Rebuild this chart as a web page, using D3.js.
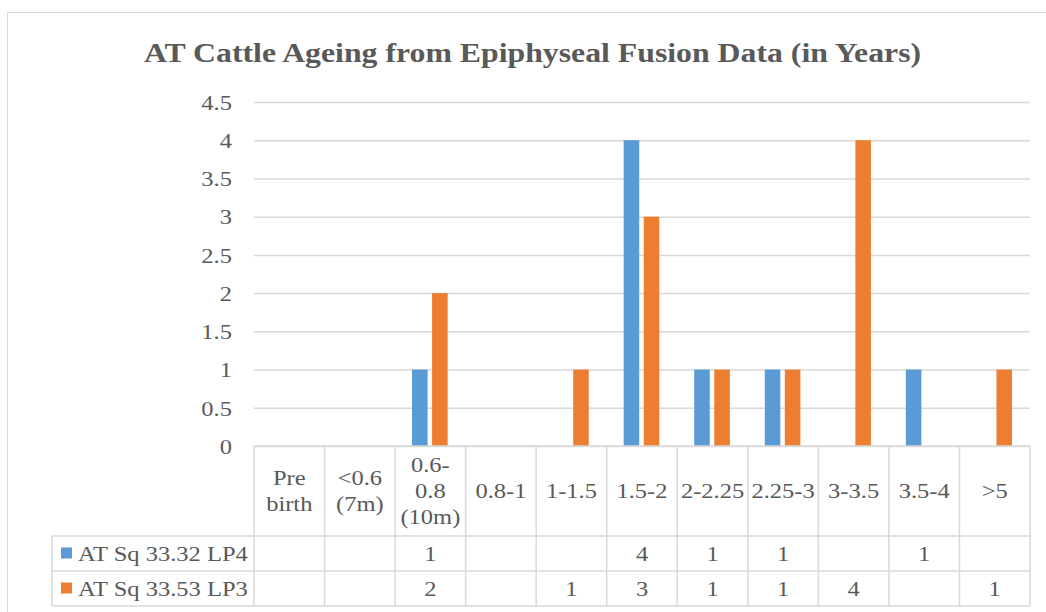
<!DOCTYPE html>
<html>
<head>
<meta charset="utf-8">
<script src="https://cdn.jsdelivr.net/npm/d3@7"></script>
<style>
  body { margin: 0; background: #fff; }
  svg text { font-family: "Liberation Serif", "Times New Roman", serif; fill: #595959; }
</style>
</head>
<body>
<svg id="chart" width="1046" height="612"></svg>
<script>
'use strict'

/****** DATA ******/

const TITLE = 'AT Cattle Ageing from Epiphyseal Fusion Data (in Years)'

// category labels, one entry per line as they wrap in the table
const categories = [
  ['Pre', 'birth'], ['<0.6', '(7m)'], ['0.6-', '0.8', '(10m)'], ['0.8-1'], ['1-1.5'],
  ['1.5-2'], ['2-2.25'], ['2.25-3'], ['3-3.5'], ['3.5-4'], ['>5']
]
const seriesNames = ['AT Sq 33.32 LP4', 'AT Sq 33.53 LP3']
const lp4Values = [null, null, 1, null, null, 4, 1, 1, null, 1, null]
const lp3Values = [null, null, 2, null, 1, 3, 1, 1, 4, null, 1]
const yTicks = [0, 0.5, 1, 1.5, 2, 2.5, 3, 3.5, 4, 4.5]

const colors = ['#5b9bd5', '#ed7d31']
const GRID = '#d9d9d9'

// the source picture is slightly stretched sideways, so text is too
const SX = 1.115
const stretch = (tx, ty, sx = SX) => `translate(${tx},${ty}) scale(${sx},1)`

/****** LAYOUT ******/

const plot = {left: 254, right: 1030, top: 102, bottom: 446}
const rows = [446, 536, 571, 606] // table row edges
const legendLeft = 52

const svg = d3.select('#chart')

// outer chart frame
svg.append('rect')
  .attr('x', 7.5).attr('y', 12.5)
  .attr('width', 1100).attr('height', 700)
  .attr('fill', 'none')
  .attr('stroke', GRID)

svg.append('text')
  .attr('transform', stretch(532.5, 62, 1.135))
  .attr('text-anchor', 'middle')
  .style('font-size', '28px')
  .style('font-weight', 'bold')
  .text(TITLE)

const keys = categories.map((c, i) => i)

const x = d3.scaleBand()
  .domain(keys)
  .range([plot.left, plot.right])

const bw = x.bandwidth()
const x1 = d3.scaleBand()
  .domain([0, 1])
  .range([bw * 0.24, bw * 0.745])
  .paddingInner(0.225)

const y = d3.scaleLinear()
  .domain([0, 4.5])
  .range([plot.bottom, plot.top])

// gridlines + y labels
const yAxis = svg.append('g')
  .attr('transform', `translate(${plot.left},0)`)
  .call(d3.axisLeft(y).tickValues(yTicks).tickSize(-(plot.right - plot.left)).tickFormat(d3.format('')))
yAxis.select('.domain').remove()
yAxis.selectAll('.tick line').attr('stroke', GRID).attr('stroke-width', 1.5)
yAxis.selectAll('.tick text')
  .attr('x', null).attr('dy', null)
  .attr('transform', stretch(-22, 0))
  .attr('dy', '0.33em')
  .attr('fill', '#595959')
  .style('font-size', '22px')
  .style('font-family', '"Liberation Serif", "Times New Roman", serif')

// bars
const series = [lp4Values, lp3Values]
series.forEach((vals, s) => {
  svg.append('g').selectAll('rect')
    .data(vals.map((v, i) => ({i, v})).filter(d => d.v != null))
    .join('rect')
      .attr('x', d => x(d.i) + x1(s))
      .attr('width', x1.bandwidth())
      .attr('y', d => y(d.v))
      .attr('height', d => y(0) - y(d.v))
      .attr('fill', colors[s])
})

/****** DATA TABLE ******/

const table = svg.append('g')
  .attr('stroke', GRID)
  .attr('stroke-width', 1.5)

// horizontal rules
table.append('line')
  .attr('x1', plot.left).attr('x2', plot.right)
  .attr('y1', rows[0]).attr('y2', rows[0])
rows.slice(1).forEach(r => {
  table.append('line')
    .attr('x1', legendLeft).attr('x2', plot.right)
    .attr('y1', r).attr('y2', r)
})

// vertical rules
keys.concat([keys.length]).forEach(i => {
  const xx = i < keys.length ? x(i) : plot.right
  table.append('line')
    .attr('x1', xx).attr('x2', xx)
    .attr('y1', rows[0]).attr('y2', rows[3])
})
table.append('line')
  .attr('x1', legendLeft).attr('x2', legendLeft)
  .attr('y1', rows[1]).attr('y2', rows[3])

// category headers
const lineH = 26
const headMid = (rows[0] + rows[1]) / 2
svg.append('g').selectAll('text')
  .data(categories)
  .join('text')
    .attr('text-anchor', 'middle')
    .style('font-size', '22px')
    .attr('transform', (c, i) => stretch(x(i) + bw / 2, headMid - (c.length - 1) * lineH / 2))
    .selectAll('tspan')
    .data(c => c)
    .join('tspan')
      .attr('x', 0)
      .attr('y', (l, j) => j * lineH)
      .attr('dy', '0.33em')
      .text(l => l)

// value rows with legend keys
series.forEach((vals, s) => {
  const mid = (rows[s + 1] + rows[s + 2]) / 2
  const g = svg.append('g')

  g.append('rect')
    .attr('x', 61).attr('y', mid - 6)
    .attr('width', 11).attr('height', 11)
    .attr('fill', colors[s])
  g.append('text')
    .attr('transform', stretch(78, mid))
    .attr('dy', '0.33em')
    .style('font-size', '22px')
    .text(seriesNames[s])

  g.selectAll('.val')
    .data(vals.map((v, i) => ({i, v})).filter(d => d.v != null))
    .join('text')
      .attr('class', 'val')
      .attr('transform', d => stretch(x(d.i) + bw / 2, mid))
      .attr('dy', '0.33em')
      .attr('text-anchor', 'middle')
      .style('font-size', '22px')
      .text(d => d.v)
})
</script>
</body>
</html>
